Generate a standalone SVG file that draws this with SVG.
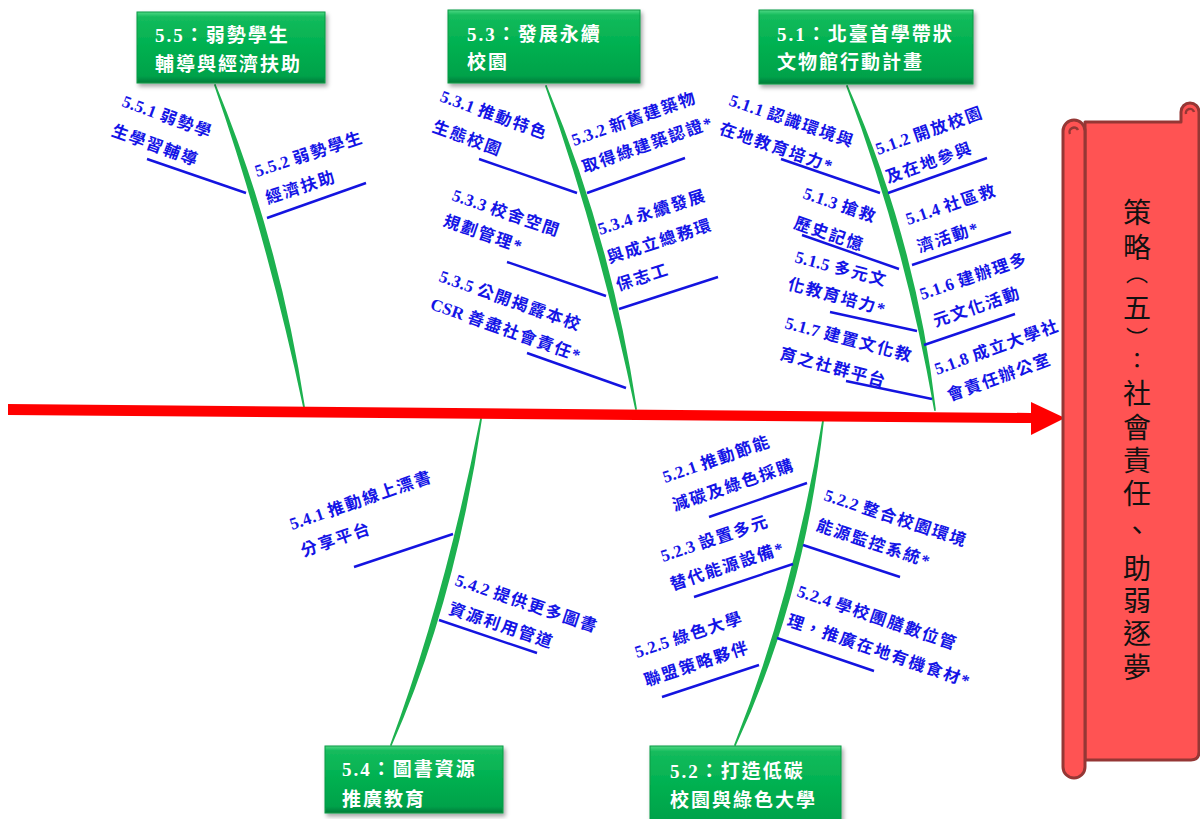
<svg xmlns="http://www.w3.org/2000/svg" width="1200" height="819" viewBox="0 0 1200 819">
<defs>
<linearGradient id="gbox" x1="0" y1="0" x2="0" y2="1">
<stop offset="0" stop-color="#4fd884"/>
<stop offset="0.07" stop-color="#14bb5c"/>
<stop offset="0.5" stop-color="#00b050"/>
<stop offset="0.9" stop-color="#00a24a"/>
<stop offset="1" stop-color="#067c3a"/>
</linearGradient>
<filter id="sh" x="-10%" y="-10%" width="130%" height="140%">
<feDropShadow dx="2" dy="3" stdDeviation="2" flood-color="#000" flood-opacity="0.35"/>
</filter>
<style>
.box{fill:url(#gbox);stroke:#0c9a45;stroke-width:1;filter:url(#sh)}
.bt{font-family:"Liberation Serif","Noto Sans CJK TC",serif;font-weight:bold;font-size:19px;fill:#fff;letter-spacing:2px}
.spine{fill:#1db14f;stroke:#1db14f;stroke-width:1.8;stroke-linejoin:round}
.br{stroke:#1414e0;stroke-width:2.4;fill:none}
.lb{font-family:"Liberation Serif","Noto Sans CJK TC",serif;font-weight:bold;font-size:16.5px;fill:#1414e6;letter-spacing:1.8px}
.n{letter-spacing:0.3px;font-size:17px}
.scr{fill:#ff5353;stroke:#953735;stroke-width:3;stroke-linejoin:round}
.sv{font-family:"Noto Sans CJK TC",sans-serif;font-size:28px;fill:#111;writing-mode:vertical-rl}
.sm{font-size:22px}
</style>
</defs>

<g id="connectors">
<path class="spine" d="M215,85 Q268,238 304,407 Q278,238 215,85 Z"/>
<path class="spine" d="M546,86 Q600,238 636,409 Q610,238 546,86 Z"/>
<path class="spine" d="M847,86 Q905,240 935,410 Q915,240 847,86 Z"/>
<path class="spine" d="M481,419 Q445,600 391,745 Q455,600 481,419 Z"/>
<path class="spine" d="M823,421 Q793,600 735,745 Q803,600 823,421 Z"/>

<line class="br" x1="147" y1="159" x2="246" y2="193"/>
<line class="br" x1="267" y1="218" x2="366" y2="183"/>
<line class="br" x1="479" y1="159" x2="577" y2="193"/>
<line class="br" x1="587" y1="193" x2="685" y2="158"/>
<line class="br" x1="507" y1="262" x2="606" y2="296"/>
<line class="br" x1="619" y1="309" x2="718" y2="277"/>
<line class="br" x1="527" y1="353" x2="626" y2="388"/>
<line class="br" x1="781" y1="159" x2="880" y2="193"/>
<line class="br" x1="888" y1="193" x2="987" y2="158"/>
<line class="br" x1="802" y1="235" x2="899" y2="269"/>
<line class="br" x1="912" y1="265" x2="1011" y2="232"/>
<line class="br" x1="830" y1="312" x2="917" y2="331"/>
<line class="br" x1="924" y1="345" x2="1015" y2="314"/>
<line class="br" x1="846" y1="381" x2="932" y2="399"/>
<line class="br" x1="354" y1="567" x2="453" y2="534"/>
<line class="br" x1="439" y1="620" x2="537" y2="653"/>
<line class="br" x1="709" y1="517" x2="807" y2="483"/>
<line class="br" x1="803" y1="545" x2="900" y2="577"/>
<line class="br" x1="694" y1="597" x2="793" y2="564"/>
<line class="br" x1="777" y1="638" x2="874" y2="671"/>
<line class="br" x1="662" y1="697" x2="759" y2="665"/>

<polygon fill="#ff0000" points="8,404 1031,413 1031,402 1065,418 1031,435 1031,423 8,415"/>
</g>

<g id="labels">
<text class="lb" transform="translate(121,106) rotate(20)"><tspan x="0" y="0"><tspan class="n">5.5.1 </tspan>弱勢學</tspan><tspan x="0" y="31">生學習輔導</tspan></text>
<text class="lb" transform="translate(257,177) rotate(-18)"><tspan x="0" y="0"><tspan class="n">5.5.2 </tspan>弱勢學生</tspan><tspan x="2" y="29">經濟扶助</tspan></text>
<text class="lb" transform="translate(439,101) rotate(20)"><tspan x="0" y="0"><tspan class="n">5.3.1 </tspan>推動特色</tspan><tspan x="3" y="31">生態校園</tspan></text>
<text class="lb" transform="translate(574,146) rotate(-19.5)"><tspan x="0" y="0"><tspan class="n">5.3.2 </tspan>新舊建築物</tspan><tspan x="1" y="29">取得綠建築認證*</tspan></text>
<text class="lb" transform="translate(451,200) rotate(19)"><tspan x="0" y="0"><tspan class="n">5.3.3 </tspan>校舍空間</tspan><tspan x="0" y="27">規劃管理*</tspan></text>
<text class="lb" transform="translate(600,235) rotate(-18)"><tspan x="0" y="0"><tspan class="n">5.3.4 </tspan>永續發展</tspan><tspan x="0" y="30">與成立總務環</tspan><tspan x="0" y="59">保志工</tspan></text>
<text class="lb" transform="translate(438,281) rotate(19.5)"><tspan x="0" y="0"><tspan class="n">5.3.5 </tspan>公開揭露本校</tspan><tspan x="1" y="29"><tspan class="n">CSR </tspan>善盡社會責任*</tspan></text>
<text class="lb" transform="translate(728,105) rotate(19)"><tspan x="0" y="0"><tspan class="n">5.1.1 </tspan>認識環境與</tspan><tspan x="0" y="30">在地教育培力*</tspan></text>
<text class="lb" transform="translate(878,155) rotate(-19.5)"><tspan x="0" y="0"><tspan class="n">5.1.2 </tspan>開放校園</tspan><tspan x="0" y="30">及在地參與</tspan></text>
<text class="lb" transform="translate(802,198) rotate(19)"><tspan x="0" y="0"><tspan class="n">5.1.3 </tspan>搶救</tspan><tspan x="1" y="31">歷史記憶</tspan></text>
<text class="lb" transform="translate(908,225) rotate(-18.5)"><tspan x="0" y="0"><tspan class="n">5.1.4 </tspan>社區救</tspan><tspan x="2" y="30">濟活動*</tspan></text>
<text class="lb" transform="translate(794,262) rotate(15)"><tspan x="0" y="0"><tspan class="n">5.1.5 </tspan>多元文</tspan><tspan x="0" y="28">化教育培力*</tspan></text>
<text class="lb" transform="translate(922,300) rotate(-19)"><tspan x="0" y="0"><tspan class="n">5.1.6 </tspan>建辦理多</tspan><tspan x="4" y="30">元文化活動</tspan></text>
<text class="lb" transform="translate(784,328) rotate(15)"><tspan x="0" y="0"><tspan class="n">5.1.7 </tspan>建置文化教</tspan><tspan x="3" y="31">育之社群平台</tspan></text>
<text class="lb" transform="translate(937,375) rotate(-20)"><tspan x="0" y="0"><tspan class="n">5.1.8 </tspan>成立大學社</tspan><tspan x="3" y="29">會責任辦公室</tspan></text>
<text class="lb" transform="translate(292,530) rotate(-19)"><tspan x="0" y="0"><tspan class="n">5.4.1 </tspan>推動線上漂書</tspan><tspan x="2" y="29">分享平台</tspan></text>
<text class="lb" transform="translate(454,585) rotate(18.6)"><tspan x="0" y="0"><tspan class="n">5.4.2 </tspan>提供更多圖書</tspan><tspan x="3" y="29">資源利用管道</tspan></text>
<text class="lb" transform="translate(665,483) rotate(-19)"><tspan x="0" y="0"><tspan class="n">5.2.1 </tspan>推動節能</tspan><tspan x="0" y="30">減碳及綠色採購</tspan></text>
<text class="lb" transform="translate(823,500) rotate(18.3)"><tspan x="0" y="0"><tspan class="n">5.2.2 </tspan>整合校園環境</tspan><tspan x="2" y="31">能源監控系統*</tspan></text>
<text class="lb" transform="translate(663,562) rotate(-18.5)"><tspan x="0" y="0"><tspan class="n">5.2.3 </tspan>設置多元</tspan><tspan x="0" y="30">替代能源設備*</tspan></text>
<text class="lb" transform="translate(796,596) rotate(18.8)"><tspan x="0" y="0"><tspan class="n">5.2.4 </tspan>學校團膳數位管</tspan><tspan x="0" y="31">理，推廣在地有機食材*</tspan></text>
<text class="lb" transform="translate(637,658) rotate(-18.3)"><tspan x="0" y="0"><tspan class="n">5.2.5 </tspan>綠色大學</tspan><tspan x="0" y="30">聯盟策略夥伴</tspan></text>
</g>

<g id="node-5-5">
<rect class="box" x="137" y="12" width="188" height="71"/>
<text class="bt" x="155" y="42">5.5：弱勢學生</text>
<text class="bt" x="155" y="71">輔導與經濟扶助</text>
</g>
<g id="node-5-3">
<rect class="box" x="448" y="10" width="192" height="73"/>
<text class="bt" x="467" y="41">5.3：發展永續</text>
<text class="bt" x="467" y="69">校園</text>
</g>
<g id="node-5-1">
<rect class="box" x="759" y="10" width="214" height="74"/>
<text class="bt" x="777" y="41">5.1：北臺首學帶狀</text>
<text class="bt" x="777" y="69">文物館行動計畫</text>
</g>
<g id="node-5-4">
<rect class="box" x="325" y="746" width="178" height="67"/>
<text class="bt" x="342" y="776">5.4：圖書資源</text>
<text class="bt" x="342" y="806">推廣教育</text>
</g>
<g id="node-5-2">
<rect class="box" x="650" y="746" width="191" height="82"/>
<text class="bt" x="670" y="778">5.2：打造低碳</text>
<text class="bt" x="670" y="807">校園與綠色大學</text>
</g>

<g id="node-strategy">
<path class="scr" d="M1085,122 H1181 V112 A9,9 0 0 1 1199,112 V752 Q1199,760 1191,760 H1085 Z"/>
<path fill="none" stroke="#953735" stroke-width="2.5" d="M1186,114 A4,4 0 0 1 1194,112"/>
<rect class="scr" x="1063" y="120" width="22" height="658" rx="11"/>
<path fill="none" stroke="#953735" stroke-width="2.5" d="M1070,134 A4,4 0 0 1 1078,130"/>
<text class="sv" x="1137" y="198"><tspan x="1137" y="198">策</tspan><tspan x="1137" y="233">略</tspan><tspan class="sm" x="1137" y="261.5">（</tspan><tspan x="1137" y="293">五</tspan><tspan class="sm" x="1137" y="326.5">）</tspan><tspan class="sm" x="1137" y="349">：</tspan><tspan x="1137" y="379">社</tspan><tspan x="1137" y="413">會</tspan><tspan x="1137" y="446">責</tspan><tspan x="1137" y="479">任</tspan><tspan x="1137" y="516">、</tspan><tspan x="1137" y="554">助</tspan><tspan x="1137" y="586">弱</tspan><tspan x="1137" y="619">逐</tspan><tspan x="1137" y="653">夢</tspan></text>
</g>
</svg>
